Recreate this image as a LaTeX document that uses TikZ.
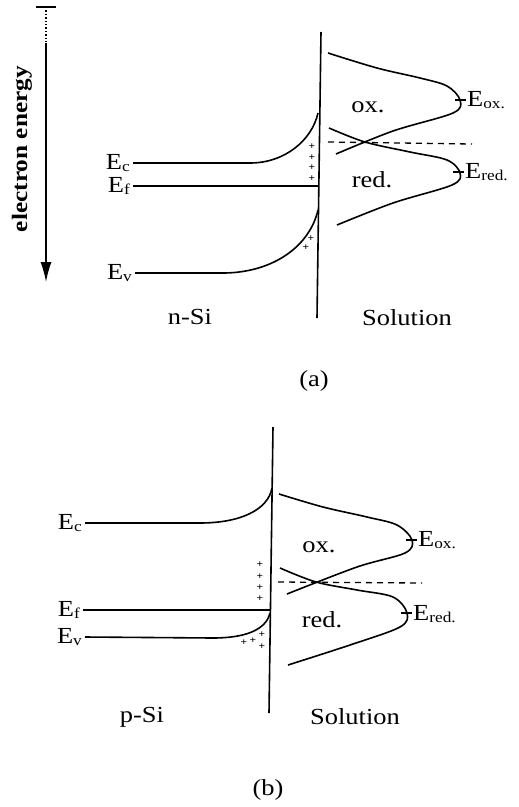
\documentclass[tikz,border=0pt]{standalone}
\usepackage{fontspec}
\setmainfont{Liberation Serif}[FakeStretch=1.15]
\usetikzlibrary{arrows.meta}
\newcommand{\lvl}[1]{E\raisebox{-1.5pt}{\fontsize{15}{15}\selectfont #1}}

\begin{document}
\begin{tikzpicture}[x=1pt, y=-1pt,
    band/.style={line width=1.6pt},
    dist/.style={line width=1.6pt, smooth, tension=0.55},
    lbl/.style={font=\fontsize{23}{23}\selectfont, inner sep=3pt},
    txt/.style={font=\fontsize{23}{23}\selectfont},
    charge/.style={font=\fontsize{10}{10}\selectfont\bfseries, inner sep=0pt},
    level/.style={line width=1.3pt, dash pattern=on 6pt off 5pt},
    arrow/.style={-{Latex[length=20pt,width=11pt]}, line width=1.4pt}
]
\useasboundingbox (0,0) rectangle (519,807);

\coordinate (eTop) at (46,7);
\coordinate (eMid) at (46,43);
\coordinate (eTip) at (46,282);
\draw[band] ([xshift=-10pt]eTop) -- ([xshift=10pt]eTop);
\draw[dotted, line width=1.4pt] (eTop) -- (eMid);
\draw[arrow] (eMid) -- (eTip);
\node[rotate=90, font=\fontsize{22}{22}\selectfont\bfseries] at (22,149) (elen) {electron energy};

\draw[band] (321,32) coordinate (topA) -- (317,318) coordinate (botA);
\draw[band] (133,163) coordinate (ecA) -- (250,163) .. controls (285,163) and (312,140) .. (318,113);
\draw[band] (133,186) coordinate (efA) -- (318,186);
\draw[band] (135,273) coordinate (evA) -- (225,273) .. controls (275,272) and (310,245) .. (318,210);
\node[lbl, left] at (ecA) (ecAl) {\lvl{c}};
\node[lbl, left] at (efA) (efAl) {\lvl{f}};
\node[lbl, left] at (evA) (evAl) {\lvl{v}};
\foreach \y in {147,158,168,179} \node[charge] at (312,\y) {+};
\node[charge] at (311,239) {+};
\node[charge] at (306,248) {+};

\draw[dist] plot coordinates {(328,53) (377,68) (420,78) (447,86) (460,100) (453,113) (393,131) (336,154)};
\draw[dist] plot coordinates {(329,128) (365,142) (410,152) (447,160) (460,173) (452,185) (393,203) (337,225)};
\draw[level] (328,142) coordinate (redoxA) -- (472,144);
\draw[band] (455,100) coordinate (oxA) -- (466,100);
\draw[band] (453,172) coordinate (rdA) -- (464,172);
\node[lbl, right, inner sep=1pt] at (466,100) (eoxA) {\lvl{ox.}};
\node[lbl, right, inner sep=1pt] at (464,172) (eredA) {\lvl{red.}};
\node[txt] at (368,107) (oxlA) {ox.};
\node[txt] at (372,180) (redlA) {red.};
\node[txt] at (190,317) (nsi) {n-Si};
\node[txt] at (407,318) (solA) {Solution};
\node[txt] at (314,381) (capA) {(a)};

\draw[band] (273,427) coordinate (topB) -- (269,713) coordinate (botB);
\draw[band] (85,523) coordinate (ecB) -- (200,523) .. controls (240,523) and (268,510) .. (272,488);
\draw[band] (83,610) coordinate (efB) -- (271,610);
\draw[band] (85,637) coordinate (evB) -- (213,638) .. controls (245,638) and (266,630) .. (270,613);
\node[lbl, left] at (ecB) (ecBl) {\lvl{c}};
\node[lbl, left] at (efB) (efBl) {\lvl{f}};
\node[lbl, left] at (evB) (evBl) {\lvl{v}};
\foreach \y in {565,577,588,599} \node[charge] at (260,\y) {+};
\foreach \x/\y in {244/643,253/641,262/635,262/647} \node[charge] at (\x,\y) {+};

\draw[dist] plot coordinates {(279,494) (323,507) (367,517) (397,525) (412,540) (405,553) (357,567) (287,594)};
\draw[dist] plot coordinates {(280,568) (316,582) (357,590) (393,597) (407,613) (400,627) (350,645) (288,665)};
\draw[level] (278,582) coordinate (redoxB) -- (422,583);
\draw[band] (406,540) coordinate (oxB) -- (417,540);
\draw[band] (401,613) coordinate (rdB) -- (412,613);
\node[lbl, right, inner sep=1pt] at (417,540) (eoxB) {\lvl{ox.}};
\node[lbl, right, inner sep=1pt] at (412,614) (eredB) {\lvl{red.}};
\node[txt] at (319,547) (oxlB) {ox.};
\node[txt] at (322,620) (redlB) {red.};
\node[txt] at (142,717) (psi) {p-Si};
\node[txt] at (355,717) (solB) {Solution};
\node[txt] at (268,790) (capB) {(b)};
\end{tikzpicture}
\end{document}
